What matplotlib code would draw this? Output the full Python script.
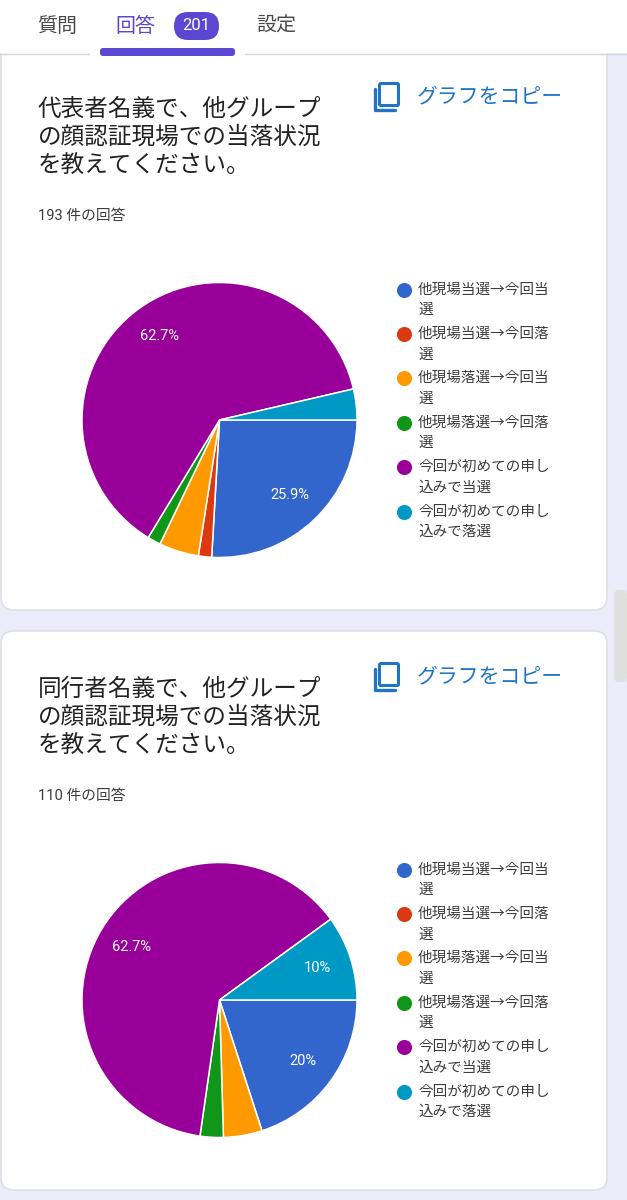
import matplotlib
matplotlib.use("Agg")
import matplotlib.pyplot as plt
from matplotlib.patches import FancyBboxPatch, Rectangle

JP = ["Noto Sans CJK JP", "DejaVu Sans"]
plt.rcParams["font.family"] = JP

categories = ["他現場当選→今回当\n選", "他現場当選→今回落\n選", "他現場落選→今回当\n選",
              "他現場落選→今回落\n選", "今回が初めての申し\n込みで当選", "今回が初めての申し\n込みで落選"]
colors = ["#3366cc", "#dc3912", "#ff9900", "#109618", "#990099", "#0099c6"]
counts_rep = [50, 3, 9, 3, 121, 7]
counts_com = [22, 0, 5, 3, 69, 11]
title_rep = "代表者名義で、他グループ\nの顔認証現場での当落状況\nを教えてください。"
title_com = "同行者名義で、他グループ\nの顔認証現場での当落状況\nを教えてください。"
resp_rep = "193 件の回答"
resp_com = "110 件の回答"
tabs = ["質問", "回答", "設定"]
badge = "201"

W, H = 627, 1200
BG = "#ecebf9"
INK = "#3c3c3c"
ACCENT = "#5b47d1"
LINK = "#1f74c6"

fig = plt.figure(figsize=(W / 100, H / 100), dpi=100, facecolor=BG)
ui = fig.add_axes([0, 0, 1, 1], zorder=0)
ui.set_xlim(0, W)
ui.set_ylim(H, 0)
ui.axis("off")


def card(y0, y1):
    ui.add_patch(FancyBboxPatch((1, y0), 606, y1 - y0, boxstyle="round,pad=0,rounding_size=13",
                                fc="white", ec="#dcdce2", lw=1.0))


def copy_icon(dy):
    ui.add_patch(FancyBboxPatch((379.5, 83.5 + dy), 19, 22, boxstyle="round,pad=0,rounding_size=1.5",
                                fc="none", ec=LINK, lw=2.2))
    ui.plot([375, 375, 395], [89 + dy, 110 + dy, 110 + dy], color=LINK, lw=2.4,
            solid_capstyle="round", solid_joinstyle="round")


def section(dy, title, resp, counts):
    ui.text(38, 137 + dy, title, fontsize=17, color="#222222", va="center", ha="left", linespacing=1.28)
    ui.text(417, 96 + dy, "グラフをコピー", fontsize=15, color=LINK, va="center", ha="left")
    ui.text(38, 216 + dy, resp, fontsize=10.6, color=INK, va="center", ha="left",
            family=["Roboto", "Noto Sans CJK JP"])
    copy_icon(dy)
    # pie
    cy = 420 + dy
    r = 137.5
    cx = 219.5
    ax = fig.add_axes([(cx - r) / W, 1 - (cy + r) / H, 2 * r / W, 2 * r / H], zorder=1)
    shown = [(c, k) for c, k in zip(counts, colors) if c > 0]
    vals = [s[0] for s in shown]
    cols = [s[1] for s in shown]

    def fmt(p):
        return f"{p:.1f}".rstrip("0").rstrip(".") + "%" if p >= 8 else ""

    _, _, autotexts = ax.pie(vals, colors=cols, startangle=0, counterclock=False, radius=1,
                             autopct=fmt, pctdistance=0.75,
                             wedgeprops=dict(edgecolor="white", linewidth=1.1))
    for t in autotexts:
        t.set_color("white")
        t.set_fontsize(10.5)
        t.set_family(["Roboto", "DejaVu Sans"])
    ax.set_xlim(-1, 1)
    ax.set_ylim(-1, 1)
    ax.set_aspect("equal")
    # legend
    for i, (lab, col) in enumerate(zip(categories, colors)):
        y = 289.5 + dy + i * 44.4
        ui.scatter([404], [y], s=118, color=col, linewidths=0, zorder=3)
        a, b = lab.split("\n")
        ui.text(418, y, a, fontsize=10.5, color=INK, va="center", ha="left")
        ui.text(418, y + 20.5, b, fontsize=10.5, color=INK, va="center", ha="left")


card(30, 610)
card(631, 1190)
section(0, title_rep, resp_rep, counts_rep)
section(580, title_com, resp_com, counts_com)

# scrollbar
ui.add_patch(FancyBboxPatch((614, 590), 13, 92, boxstyle="round,pad=0,rounding_size=5",
                            fc="#dfe0de", ec="none"))

# header
ui.add_patch(Rectangle((0, 0), W, 53, fc="white", ec="none", zorder=4))
ui.plot([0, W], [53.5, 53.5], color="#d6d6dc", lw=1, zorder=4)
ui.text(57, 26, tabs[0], fontsize=14.4, color="#4a4a4a", ha="center", va="center", zorder=5)
ui.text(135, 26, tabs[1], fontsize=14.4, color=ACCENT, ha="center", va="center", zorder=5)
ui.text(276, 26, tabs[2], fontsize=14.4, color="#4a4a4a", ha="center", va="center", zorder=5)
ui.add_patch(FancyBboxPatch((174, 12), 45, 28, boxstyle="round,pad=0,rounding_size=14",
                            fc=ACCENT, ec="none", zorder=5))
ui.text(196.5, 26, badge, fontsize=12, color="white", ha="center", va="center", zorder=6,
        family=["Roboto", "DejaVu Sans"])
ui.add_patch(FancyBboxPatch((100, 48), 135, 8, boxstyle="round,pad=0,rounding_size=3",
                            fc=ACCENT, ec="none", zorder=5))
ui.add_patch(Rectangle((90, 53), 155, 6, fc="white", ec="none", zorder=4.5))
ui.add_patch(Rectangle((100, 53), 135, 1, fc=ACCENT, ec="none", zorder=6))

fig.savefig("out.png", dpi=100, facecolor=fig.get_facecolor())
